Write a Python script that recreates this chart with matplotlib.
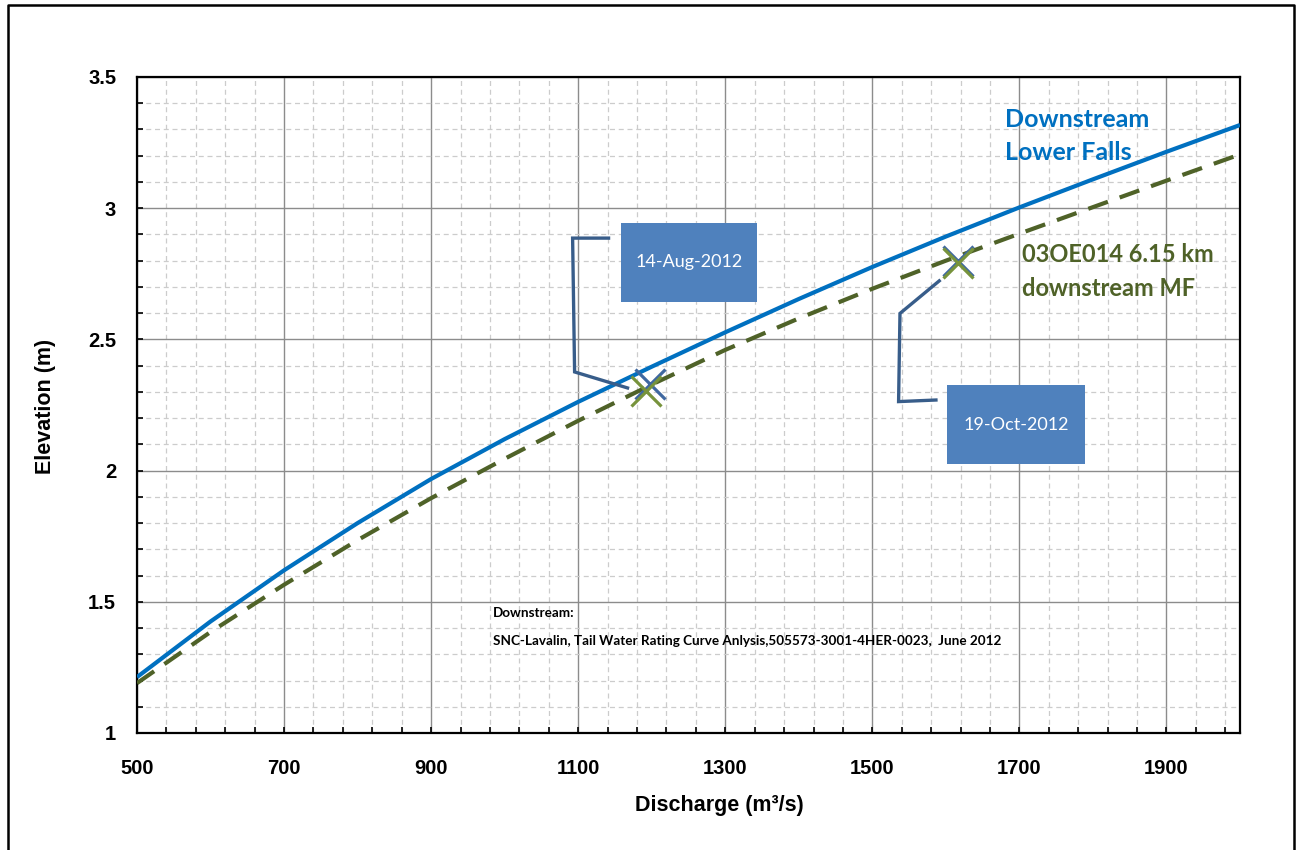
import matplotlib
matplotlib.use("Agg")
import matplotlib.pyplot as plt
from matplotlib.ticker import MultipleLocator
from matplotlib.patches import Rectangle
from matplotlib.lines import Line2D

# ---- data ----
discharge = [500, 600, 700, 800, 900, 1000, 1100, 1200, 1300, 1400, 1500, 1600, 1700, 1800, 1900, 2000]
elev_lower_falls = [1.213, 1.425, 1.62, 1.80, 1.968, 2.12, 2.262, 2.396, 2.527, 2.654, 2.776, 2.892, 3.003, 3.110, 3.215, 3.317]
elev_03OE014 = [1.19, 1.385, 1.565, 1.735, 1.895, 2.045, 2.19, 2.328, 2.46, 2.58, 2.693, 2.80, 2.903, 3.004, 3.105, 3.205]

obs_dates = ["14-Aug-2012", "19-Oct-2012"]
obs_q_blue = [1197, 1617]
obs_h_blue = [2.33, 2.80]
obs_q_green = [1192, 1616]
obs_h_green = [2.305, 2.79]

x_ticks = [500, 700, 900, 1100, 1300, 1500, 1700, 1900]
y_ticks = [1, 1.5, 2, 2.5, 3, 3.5]
y_tick_labels = ["1", "1.5", "2", "2.5", "3", "3.5"]

BLUE = "#0070C0"
GREEN = "#4F6228"
BOX = "#4F81BD"
LEAD = "#385D8A"
XGREEN = "#77933C"

W, H = 1296, 850
fig = plt.figure(figsize=(W / 100, H / 100), dpi=100)
ax = fig.add_axes([137 / W, 1 - 733 / H, (1240 - 137) / W, (733 - 77) / H])

ax.set_xlim(500, 2000)
ax.set_ylim(1, 3.5)
ax.set_xticks(x_ticks)
ax.xaxis.set_minor_locator(MultipleLocator(40, offset=20))
ax.set_yticks(y_ticks)
ax.set_yticklabels(y_tick_labels)
ax.yaxis.set_minor_locator(MultipleLocator(0.1))

ax.grid(which="major", color="#8C8C8C", lw=1.0, ls="-")
ax.grid(which="minor", color="#CCCCCC", lw=0.9, ls=(0, (4, 3)))
ax.set_axisbelow(True)

for s in ax.spines.values():
    s.set_color("black")
    s.set_linewidth(1.6)

ax.tick_params(which="both", direction="in", length=4, width=1.2, color="black")
ax.tick_params(axis="x", which="major", pad=19)
ax.tick_params(axis="y", which="major", pad=15)
for lab in ax.get_xticklabels() + ax.get_yticklabels():
    lab.set_fontfamily("Liberation Sans")
    lab.set_fontweight("bold")
    lab.set_fontsize(14.5)

# curves
ax.plot(discharge, elev_lower_falls, color=BLUE, lw=3.0, solid_capstyle="butt", zorder=3)
ax.plot(discharge, elev_03OE014, color=GREEN, lw=3.0, ls=(0, (5, 3)), zorder=3)

# observation markers
ax.plot(obs_q_blue, obs_h_blue, ls="none", marker="x", ms=21, mew=2.3, color="#3F68A0", zorder=4)
ax.plot(obs_q_green, obs_h_green, ls="none", marker="x", ms=21, mew=2.3, color=XGREEN, zorder=5)

# callout boxes
boxes = [(1157.6, 2.643, 186.1, 0.301), (1601.9, 2.025, 187.5, 0.301)]
for (bx, by, bw, bh), label in zip(boxes, obs_dates):
    ax.add_patch(Rectangle((bx, by), bw, bh, facecolor=BOX, edgecolor="none", zorder=6))
    ax.text(bx + bw / 2, by + bh / 2, label, ha="center", va="center", color="white",
            fontsize=13, family="Lato", zorder=7)

# leader lines
lead1_x = [1141.3, 1092.4, 1095.1, 1167.1]
lead1_y = [2.886, 2.886, 2.376, 2.315]
lead2_x = [1586.5, 1535.7, 1537.6, 1591.0]
lead2_y = [2.269, 2.263, 2.599, 2.723]
ax.plot(lead1_x, lead1_y, color=LEAD, lw=2.4, zorder=6, solid_joinstyle="miter")
ax.plot(lead2_x, lead2_y, color=LEAD, lw=2.4, zorder=6, solid_joinstyle="miter")

# series labels (baseline positioned)
ax.text(1680.5, 3.3095, "Downstream", color=BLUE, fontsize=18, fontweight="bold",
        family="Lato", ha="left", va="baseline", zorder=7)
ax.text(1680.5, 3.1837, "Lower Falls", color=BLUE, fontsize=18, fontweight="bold",
        family="Lato", ha="left", va="baseline", zorder=7)
ax.text(1703.6, 2.795, "03OE014 6.15 km", color=GREEN, fontsize=17, fontweight="bold",
        family="Lato", ha="left", va="baseline", zorder=7)
ax.text(1703.6, 2.665, "downstream MF", color=GREEN, fontsize=17, fontweight="bold",
        family="Lato", ha="left", va="baseline", zorder=7)

# source note
ax.text(984.2, 1.442, "Downstream:", color="black", fontsize=9.7, fontweight="bold",
        family="Lato", ha="left", va="baseline", zorder=7)
ax.text(984.2, 1.335, "SNC-Lavalin, Tail Water Rating Curve Anlysis,505573-3001-4HER-0023,  June 2012",
        color="black", fontsize=9.7, fontweight="bold", family="Lato", ha="left",
        va="baseline", zorder=7)

# axis titles
fig.text(719.5 / W, 1 - 805 / H, "Discharge (m³/s)", ha="center", va="center",
         fontsize=15.5, fontweight="bold", family="Liberation Sans")
fig.text(45 / W, 1 - 406 / H, "Elevation (m)", ha="center", va="center", rotation=90,
         fontsize=15.5, fontweight="bold", family="Liberation Sans")

# chart-area border (bottom edge cut off)
bl, bt, br = 7.5 / W, 1 - 5 / H, 1293.5 / W
fig.add_artist(Line2D([bl, bl, br, br], [-0.01, bt, bt, -0.01], transform=fig.transFigure,
                      color="black", lw=1.8))

fig.savefig("out.png", dpi=100)
